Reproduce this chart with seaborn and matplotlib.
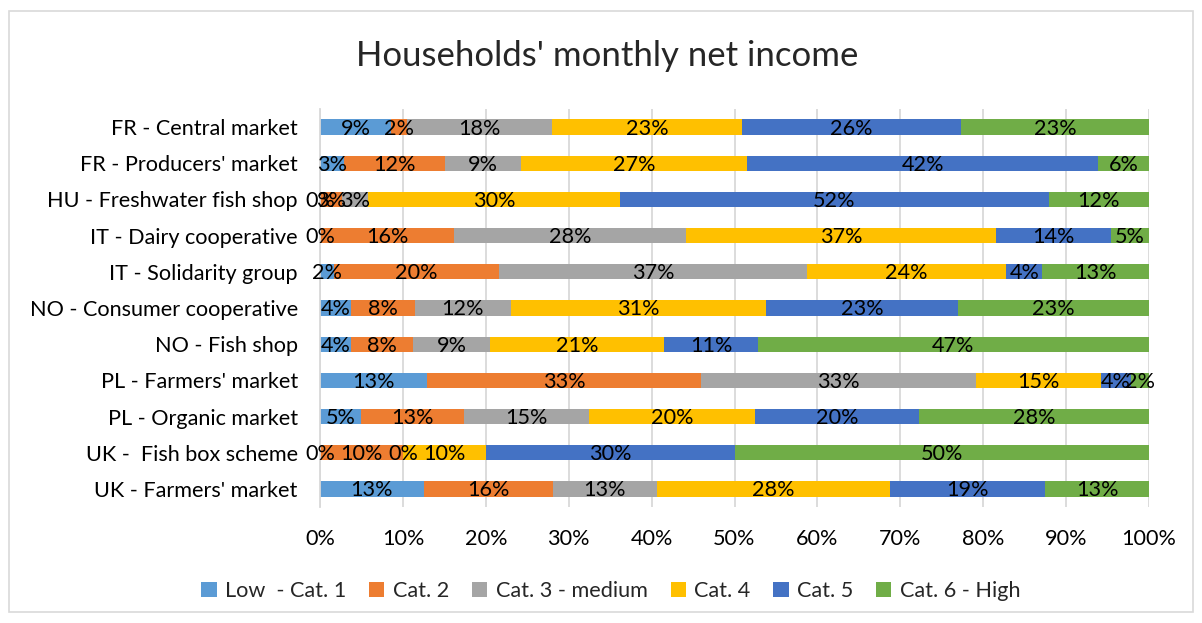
import math
import matplotlib
matplotlib.use("Agg")
import matplotlib.pyplot as plt
import matplotlib.patches as mpatches
import numpy as np
import pandas as pd
import seaborn as sns

# data (share of households, %)
markets = [
    "FR - Central market",
    "FR - Producers' market",
    "HU - Freshwater fish shop",
    "IT - Dairy cooperative",
    "IT - Solidarity group",
    "NO - Consumer cooperative",
    "NO - Fish shop",
    "PL - Farmers' market",
    "PL - Organic market",
    "UK -  Fish box scheme",
    "UK - Farmers' market",
]
categories = ["Low  - Cat. 1", "Cat. 2", "Cat. 3 - medium", "Cat. 4", "Cat. 5", "Cat. 6 - High"]

cat1 = [8.6, 2.9, 0.0, 0.0, 1.7, 3.75, 3.7, 12.9, 4.9, 0.0, 12.5]
cat2 = [1.9, 12.2, 2.7, 16.2, 19.9, 7.65, 7.5, 33.1, 12.5, 10.0, 15.6]
cat3 = [17.5, 9.1, 3.1, 28.0, 37.1, 11.6, 9.3, 33.1, 15.1, 0.0, 12.5]
cat4 = [22.9, 27.3, 30.4, 37.4, 24.1, 30.8, 21.0, 15.1, 20.0, 10.0, 28.1]
cat5 = [26.4, 42.4, 51.7, 13.8, 4.3, 23.2, 11.3, 3.6, 19.8, 30.0, 18.8]
cat6 = [22.7, 6.1, 12.1, 4.6, 12.9, 23.0, 47.2, 2.2, 27.7, 50.0, 12.5]

colors = ["#5B9BD5", "#ED7D31", "#A5A5A5", "#FFC000", "#4472C4", "#70AD47"]

df = pd.DataFrame(
    {c: v for c, v in zip(categories, [cat1, cat2, cat3, cat4, cat5, cat6])},
    index=markets,
)
cum = df.cumsum(axis=1)

sns.set_style("white")
plt.rcParams["font.family"] = ["Lato", "DejaVu Sans"]
FS = 15.6

fig = plt.figure(figsize=(12.02, 6.23), dpi=100)
ax = fig.add_axes([320 / 1202, 1 - 507 / 623, 829 / 1202, 398 / 623])

# stacked bars: draw the cumulative totals from the widest to the narrowest
for cat, col in reversed(list(zip(categories, colors))):
    sns.barplot(
        x=cum[cat].values, y=markets, order=markets, orient="h",
        color=col, width=0.42, linewidth=0, saturation=1, ax=ax, zorder=2,
    )

# segment labels
for i, m in enumerate(markets):
    left = 0.0
    for cat in categories:
        v = df.loc[m, cat]
        ax.text(left + v / 2, i + 0.04, f"{math.floor(v + 0.5)}%", ha="center", va="center",
                fontsize=FS, color="black", zorder=3)
        left += v

ax.set_xlim(0, 100)
ax.set_ylim(10.5, -0.5)
ax.set_xticks(np.arange(0, 101, 10))
ax.set_xticklabels([f"{t}%" for t in range(0, 101, 10)])
ax.xaxis.grid(True, color="#D9D9D9", linewidth=1.3, zorder=0)
ax.set_axisbelow(True)
ax.set_xlabel("")
ax.set_ylabel("")
for s in ["top", "right", "bottom"]:
    ax.spines[s].set_visible(False)
ax.spines["left"].set_color("#D9D9D9")
ax.spines["left"].set_linewidth(1.3)
ax.tick_params(axis="both", length=0, labelsize=FS, colors="black")
ax.tick_params(axis="x", pad=16)
ax.tick_params(axis="y", pad=16)

fig.text(607 / 1202, 1 - 56 / 623, "Households' monthly net income",
         ha="center", va="center", fontsize=25)

handles = [mpatches.Patch(facecolor=c, edgecolor="none", label=l) for l, c in zip(categories, colors)]
fig.legend(handles=handles, loc="center", bbox_to_anchor=(611 / 1202, 1 - 591 / 623),
           ncol=6, frameon=False, fontsize=FS, handlelength=0.7, handleheight=0.7,
           handletextpad=0.4, columnspacing=1.05)

fig.patches.append(mpatches.Rectangle((9 / 1202, 1 - 612 / 623), 1184 / 1202, 601 / 623,
                                      transform=fig.transFigure, fill=False,
                                      edgecolor="#D9D9D9", linewidth=1.2))

fig.savefig("out.png", dpi=100)
